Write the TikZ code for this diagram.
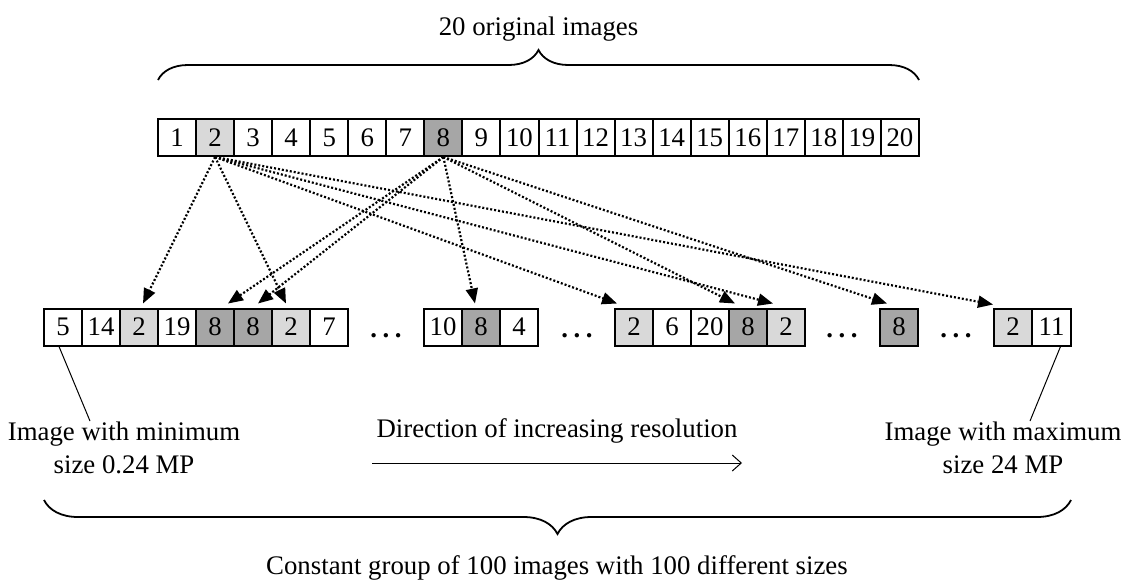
\documentclass[tikz,border=0pt]{standalone}
\usepackage{fontspec}
\setmainfont{Liberation Serif}
\usetikzlibrary{arrows.meta,decorations.pathreplacing}
\definecolor{lightg}{RGB}{217,217,217}
\definecolor{darkg}{RGB}{166,166,166}
\newcommand{\mydots}{\textbf{.}\hspace{5.5pt}\textbf{.}\hspace{5.5pt}\textbf{.}}
\begin{document}
\begin{tikzpicture}[x=1pt,y=-1pt,
  font=\fontsize{26.8}{33}\selectfont,
  cell/.style={draw, line width=2pt, minimum width=38.05pt, minimum height=37pt, inner sep=0pt, anchor=center},
  lt/.style={cell, fill=lightg},
  dk/.style={cell, fill=darkg},
  link/.style={line width=2.2pt, dash pattern=on 2pt off 2pt, -{Triangle[length=15pt,width=12pt]}},
  thinline/.style={line width=1pt},
  bracestyle/.style={line width=1.8pt, decorate},
  dotsnode/.style={anchor=base, inner sep=0pt}]
\useasboundingbox (0,0) rectangle (1126,579);

% top row
\foreach \i/\s in {1/cell,2/lt,3/cell,4/cell,5/cell,6/cell,7/cell,8/dk,9/cell,10/cell,11/cell,12/cell,13/cell,14/cell,15/cell,16/cell,17/cell,18/cell,19/cell,20/cell}
  \node[\s] (t\i) at ({158+38.05*(\i-0.5)},137.5) {\i};

% bottom row
\node[cell] (b1) at (63,327) {5};
\node[cell] (b2) at (101,327) {14};
\node[lt]   (b3) at (139,327) {2};
\node[cell] (b4) at (177,327) {19};
\node[dk]   (b5) at (215,327) {8};
\node[dk]   (b6) at (253,327) {8};
\node[lt]   (b7) at (291,327) {2};
\node[cell] (b8) at (329,327) {7};
\node[dotsnode] (d1) at (386,337) {\mydots};
\node[cell] (b9) at (443,327) {10};
\node[dk]   (b10) at (481,327) {8};
\node[cell] (b11) at (519,327) {4};
\node[dotsnode] (d2) at (577,337) {\mydots};
\node[lt]   (b12) at (634,327) {2};
\node[cell] (b13) at (672,327) {6};
\node[cell] (b14) at (710,327) {20};
\node[dk]   (b15) at (748,327) {8};
\node[lt]   (b16) at (786,327) {2};
\node[dotsnode] (d3) at (842,337) {\mydots};
\node[dk]   (b17) at (899,327) {8};
\node[dotsnode] (d4) at (956,337) {\mydots};
\node[lt]   (b18) at (1013,327) {2};
\node[cell] (b19) at (1051.5,327) {11};

% arrows from image 2
\draw[link] (t2.south) -- ([xshift=4pt,yshift=4pt]b3.north);
\draw[link] (t2.south) -- ([xshift=-5pt,yshift=4pt]b7.north);
\draw[link] (t2.south) -- ([xshift=-17pt,yshift=4pt]b12.north);
\draw[link] (t2.south) -- ([xshift=-13pt,yshift=4pt]b16.north);
\draw[link] (t2.south) -- ([xshift=-20pt,yshift=3pt]b18.north);
% arrows from image 8
\draw[link] (t8.south) -- ([xshift=13pt,yshift=4pt]b5.north);
\draw[link] (t8.south) -- ([xshift=5pt,yshift=4pt]b6.north);
\draw[link] (t8.south) -- ([xshift=-6pt,yshift=4pt]b10.north);
\draw[link] (t8.south) -- ([xshift=-13pt,yshift=4pt]b15.north);
\draw[link] (t8.south) -- ([xshift=-12pt,yshift=4pt]b17.north);

% braces
\draw[bracestyle, decoration={brace, amplitude=30pt}] (158,80) -- (919,80);
\draw[bracestyle, decoration={brace, amplitude=34pt}] (1071,500) -- (44,500);

% texts
\node[anchor=base] (title) at (538.5,35) {20 original images};
\node[anchor=base] (dir) at (557,437) {Direction of increasing resolution};
\node[align=center] (minl) at (124,448) {Image with minimum\\size 0.24 MP};
\node[align=center] (maxl) at (1003,448) {Image with maximum\\size 24 MP};
\node[anchor=base] (bottom) at (557,574) {Constant group of 100 images with 100 different sizes};

% pointer lines
\coordinate (lmin) at (90,421);
\coordinate (lmax) at (1030,421);
\draw[thinline] ([xshift=-4pt]b1.south) -- (lmin);
\draw[thinline] ([xshift=9pt]b19.south) -- (lmax);

% direction arrow
\coordinate (ds) at (372,463);
\coordinate (de) at (742,463);
\draw[thinline, -{Straight Barb[length=9pt,width=16pt]}] (ds) -- (de);
\end{tikzpicture}
\end{document}
